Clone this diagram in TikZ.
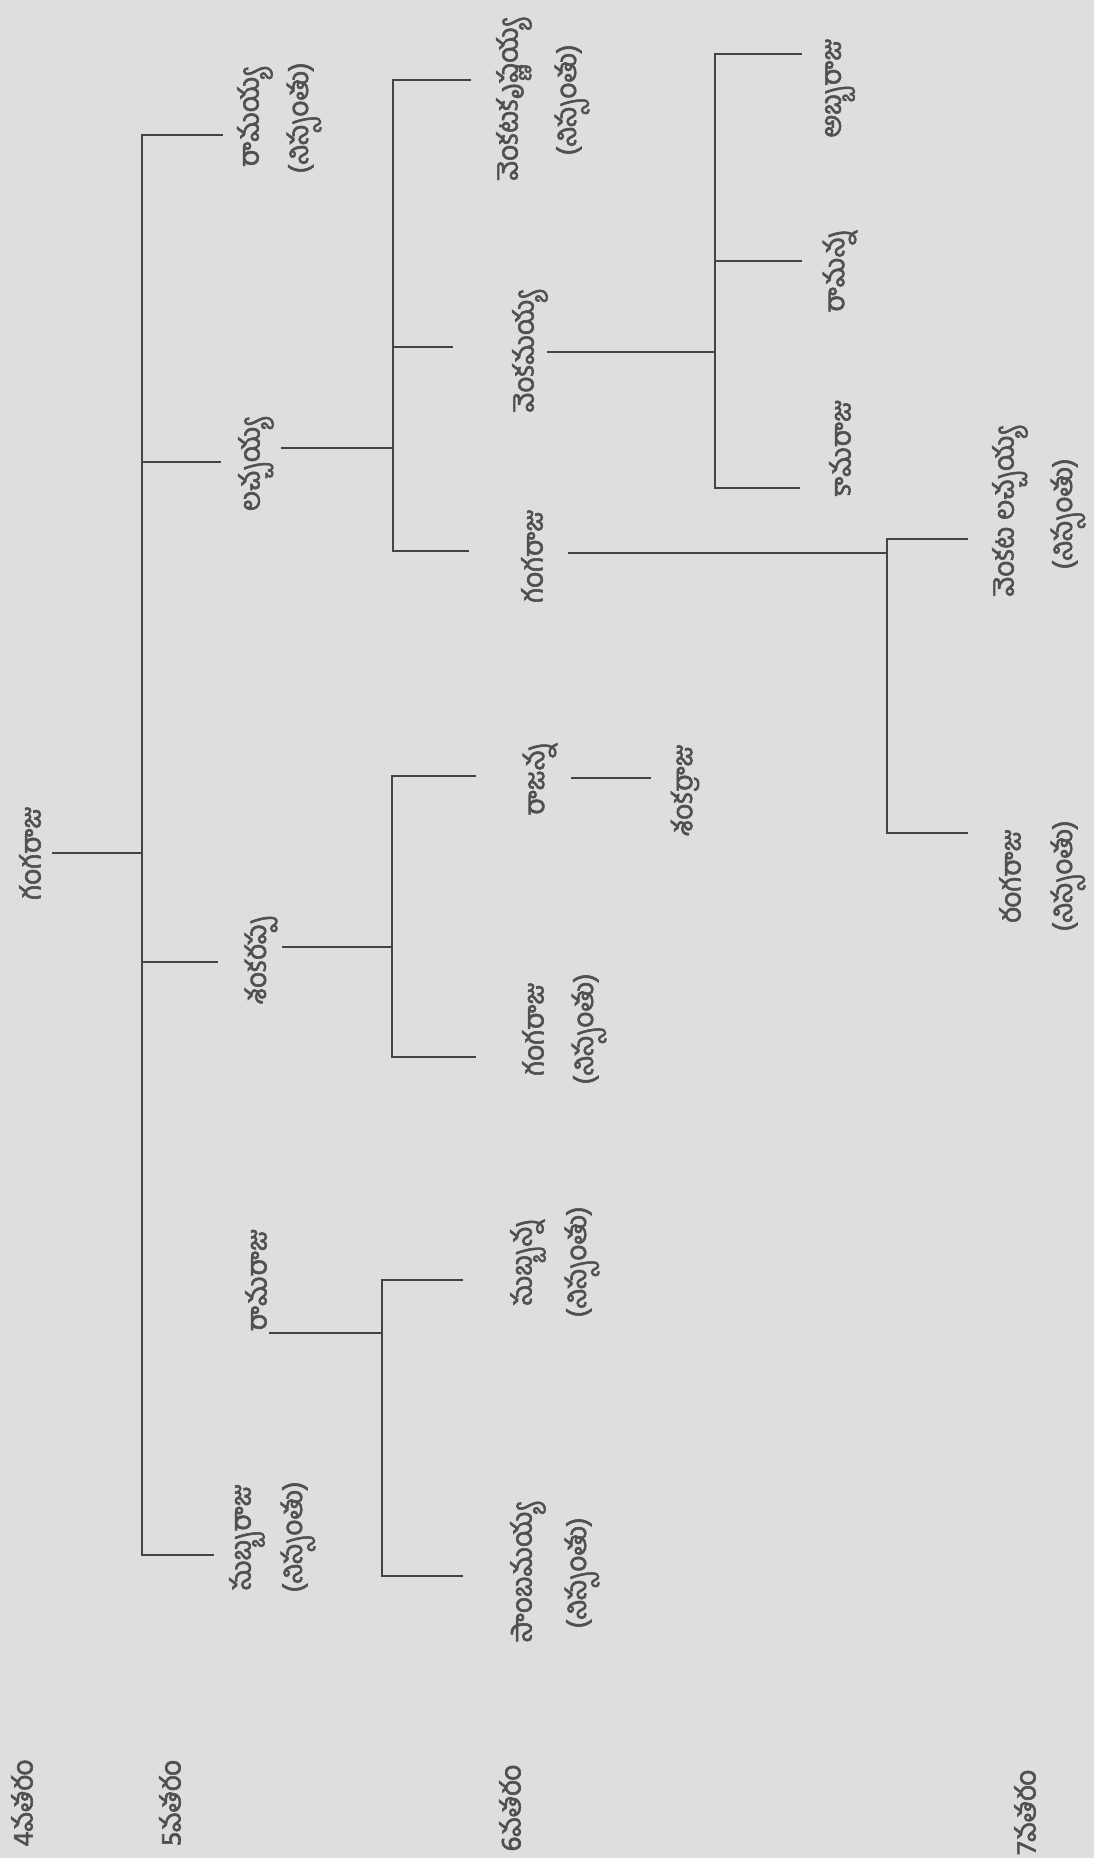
\documentclass[tikz,border=0pt]{standalone}
\usepackage{fontspec}
\newfontfamily\te[Script=Telugu,FakeBold=2]{Hind Guntur}
\definecolor{bgc}{HTML}{DEDEDE}
\definecolor{txtc}{HTML}{505050}
\definecolor{linec}{HTML}{444444}
\begin{document}
\begin{tikzpicture}[x=1pt,y=-1pt,
  lbl/.style={rotate=90,font=\te\fontsize{28}{32}\selectfont,text=txtc,inner sep=0pt,anchor=center},
  ln/.style={draw=linec,line width=2.4pt,line cap=rect}]
\fill[bgc] (0,0) rectangle (1094,1858);
\useasboundingbox (0,0) rectangle (1094,1858);
% generation labels
\node[lbl] (l4) at (22,1803) {4వతరం};
\node[lbl] (l5) at (170,1803) {5వతరం};
\node[lbl] (l6) at (510,1808) {6వతరం};
\node[lbl] (l7) at (1025,1812) {7వతరం};
% root
\node[lbl] (root) at (30,853) {గంగరాజు};
% 5th generation
\node[lbl] (g5a) at (255,118) {రామయ్య};
\node[lbl] (g5ap) at (304,118) {(నిస్సంతు)};
\node[lbl] (g5b) at (256,465) {లచ్చయ్య};
\node[lbl] (g5c) at (261,960) {శంకరప్ప};
\node[lbl] (g5d) at (256,1280) {రామరాజు};
\node[lbl] (g5e) at (247,1537) {సుబ్బరాజు};
\node[lbl] (g5ep) at (298,1537) {(నిస్సంతు)};
% 6th generation
\node[lbl] (g6a) at (514,100) {వెంకటకృష్ణయ్య};
\node[lbl] (g6ap) at (572,100) {(నిస్సంతు)};
\node[lbl] (g6b) at (530,352) {వెంకమయ్య};
\node[lbl] (g6c) at (532,556) {గంగరాజు};
\node[lbl] (g6d) at (540,779) {రాజన్న};
\node[lbl] (g6e) at (533,1029) {గంగరాజు};
\node[lbl] (g6ep) at (589,1029) {(నిస్సంతు)};
\node[lbl] (g6f) at (528,1262) {సుబ్బన్న};
\node[lbl] (g6fp) at (582,1262) {(నిస్సంతు)};
\node[lbl] (g6g) at (528,1573) {సాంబమయ్య};
\node[lbl] (g6gp) at (582,1573) {(నిస్సంతు)};
\node[lbl] (g6dc) at (685,790) {శంకర్రాజు};
% 7th generation
\node[lbl] (g7a) at (840,88) {అబ్బరాజు};
\node[lbl] (g7b) at (840,271) {రామన్న};
\node[lbl] (g7c) at (840,448) {కామరాజు};
\node[lbl] (g7d) at (1010,512) {వెంకట లచ్చయ్య};
\node[lbl] (g7dp) at (1068,514) {(నిస్సంతు)};
\node[lbl] (g7e) at (1010,876) {రంగరాజు};
\node[lbl] (g7ep) at (1068,876) {(నిస్సంతు)};
% junction coordinates
\coordinate (r0) at (53,853);
\coordinate (tr) at (142,853);
\coordinate (t1) at (142,135);  \coordinate (t1e) at (222,135);
\coordinate (t2) at (142,462);  \coordinate (t2e) at (220,462);
\coordinate (t3) at (142,962);  \coordinate (t3e) at (217,962);
\coordinate (t5) at (142,1555); \coordinate (t5e) at (213,1555);
% trunk
\draw[ln] (r0) -- (tr);
\draw[ln] (t1e) -- (t1) -- (t5) -- (t5e);
\draw[ln] (t2) -- (t2e);
\draw[ln] (t3) -- (t3e);
% lacchayya family
\coordinate (b0) at (282,448); \coordinate (b1) at (393,448);
\coordinate (bt) at (393,80);  \coordinate (bte) at (470,80);
\coordinate (bm) at (393,347); \coordinate (bme) at (452,347);
\coordinate (bb) at (393,551); \coordinate (bbe) at (468,551);
\draw[ln] (b0) -- (b1);
\draw[ln] (bte) -- (bt) -- (bb) -- (bbe);
\draw[ln] (bm) -- (bme);
% shankarappa family
\coordinate (s0) at (283,947); \coordinate (s1) at (392,947);
\coordinate (st) at (392,776); \coordinate (ste) at (475,776);
\coordinate (sb) at (392,1057); \coordinate (sbe) at (475,1057);
\draw[ln] (s0) -- (s1);
\draw[ln] (ste) -- (st) -- (sb) -- (sbe);
\coordinate (sd0) at (572,778); \coordinate (sd1) at (650,778);
\draw[ln] (sd0) -- (sd1);
% ramaraju family
\coordinate (m0) at (270,1333); \coordinate (m1) at (382,1333);
\coordinate (mt) at (382,1280); \coordinate (mte) at (462,1280);
\coordinate (mb) at (382,1576); \coordinate (mbe) at (462,1576);
\draw[ln] (m0) -- (m1);
\draw[ln] (mte) -- (mt) -- (mb) -- (mbe);
% venkamayya family
\coordinate (v0) at (548,352); \coordinate (v1) at (715,352);
\coordinate (vt) at (715,54);  \coordinate (vte) at (801,54);
\coordinate (vm) at (715,261); \coordinate (vme) at (801,261);
\coordinate (vb) at (715,488); \coordinate (vbe) at (799,488);
\draw[ln] (v0) -- (v1);
\draw[ln] (vte) -- (vt) -- (vb) -- (vbe);
\draw[ln] (vm) -- (vme);
% gangaraju family
\coordinate (c0) at (569,553); \coordinate (c1) at (887,553);
\coordinate (ct) at (887,539); \coordinate (cte) at (967,539);
\coordinate (cb) at (887,833); \coordinate (cbe) at (967,833);
\draw[ln] (c0) -- (c1);
\draw[ln] (cte) -- (ct) -- (cb) -- (cbe);
\end{tikzpicture}
\end{document}
